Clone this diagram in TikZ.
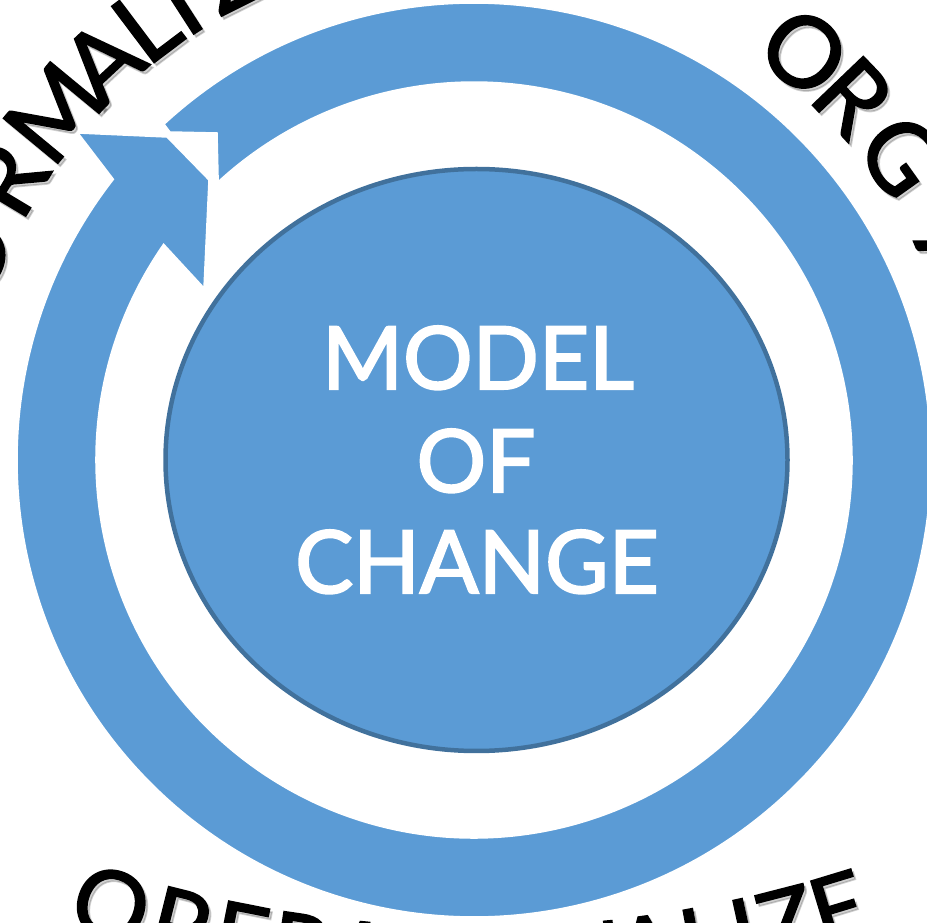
\documentclass[tikz,border=0pt]{standalone}
\usepackage{fontspec}
\setmainfont{Lato}
\newfontfamily\titlefont{Lato}[FakeBold=2.3]
\newfontfamily\arcfont{Lato}[FakeBold=1.8]
\usetikzlibrary{calc,shapes.geometric}
\definecolor{ringblue}{HTML}{5B9BD5}
\definecolor{edgeblue}{HTML}{41719C}
\begin{document}
\begin{tikzpicture}[x=1pt,y=1pt,
  arcletter/.style={anchor=base, inner sep=0pt, font=\arcfont\fontsize{98}{98}\selectfont, text=black},
  botletter/.style={arcletter, font=\arcfont\fontsize{94}{94}\selectfont},
  letshadow/.style={text=black, opacity=0.18},
  titletext/.style={anchor=base, inner sep=0pt, text=white, font=\titlefont\fontsize{87}{100}\selectfont},
  ringshape/.style={fill=ringblue, draw=white, line width=1.5pt, line join=miter},
  corestyle/.style={ellipse, draw=edgeblue, fill=ringblue, line width=4.5pt,
    minimum width=622pt, minimum height=582pt, inner sep=0pt}]
\useasboundingbox (0,0) rectangle (927,922);
\coordinate (C) at (474,462);
\coordinate (B) at (480,1194);
% --- curved labels: shadows
\foreach \ch/\ang [count=\i] in {F/165.5,O/158,R/149,M/140.4,A/133,L/127,I/122.8,Z/116.6,E/109.5}{
  \node[arcletter, letshadow, rotate=\ang-90] (fs\i) at ($(C)+(\ang:510)+(2.5,-3)$) {\ch};
}
\foreach \ch/\ang [count=\i] in {O/51,R/43.8,G/35.4,A/22.6,N/12.6,I/5.6,Z/-0.4,E/-7.4}{
  \node[arcletter, letshadow, rotate=\ang-90] (gs\i) at ($(C)+(\ang:490)+(2.5,-3)$) {\ch};
}
\foreach \ch/\ang [count=\i] in {O/-17.4,P/-14.1,E/-11.2,R/-8.4,A/-5.5,T/-2.6,I/-0.6,O/1.8,N/5,A/7.8,L/10.5,I/12.4,Z/14.4,E/16.9}{
  \node[botletter, letshadow, rotate=\ang] (ps\i) at ($(B)+(\ang-90:1267)+(2.5,-3)$) {\ch};
}
% --- curved labels: letters
\foreach \ch/\ang [count=\i] in {F/165.5,O/158,R/149,M/140.4,A/133,L/127,I/122.8,Z/116.6,E/109.5}{
  \node[arcletter, rotate=\ang-90] (fl\i) at ($(C)+(\ang:510)$) {\ch};
}
\foreach \ch/\ang [count=\i] in {O/51,R/43.8,G/35.4,A/22.6,N/12.6,I/5.6,Z/-0.4,E/-7.4}{
  \node[arcletter, rotate=\ang-90] (gl\i) at ($(C)+(\ang:490)$) {\ch};
}
\foreach \ch/\ang [count=\i] in {O/-17.4,P/-14.1,E/-11.2,R/-8.4,A/-5.5,T/-2.6,I/-0.6,O/1.8,N/5,A/7.8,L/10.5,I/12.4,Z/14.4,E/16.9}{
  \node[botletter, rotate=\ang] (pl\i) at ($(B)+(\ang-90:1267)$) {\ch};
}
% --- circular arrow ring
\coordinate (tailO) at ($(C)+(132.7:457)$);
\coordinate (tailN1) at (170,790);
\coordinate (tailN2) at (217,789);
\coordinate (headO) at ($(C)+(142.1:457)$);
\coordinate (barbO) at (78,789);
\coordinate (tip1) at (167,785);
\coordinate (tip2) at (209,742);
\coordinate (barbI) at (204,634);
\coordinate (headI) at ($(C)+(145.2:378)$);
\path[ringshape] (tailO) arc[start angle=132.7, end angle=-217.9, radius=457]
  -- (barbO) -- (tip1) -- (tip2) -- (barbI) -- (headI)
  arc[start angle=-214.8, end angle=132.6, radius=378]
  -- (tailN2) -- (tailN1) -- cycle;
% --- central ellipse
\node[corestyle] (core) at (476.5,462) {};
\node[titletext] (t1) at (478,533) {MODEL};
\node[titletext] (t2) at (476,430) {OF};
\node[titletext] (t3) at (477,329) {CHANGE};
\end{tikzpicture}
\end{document}
